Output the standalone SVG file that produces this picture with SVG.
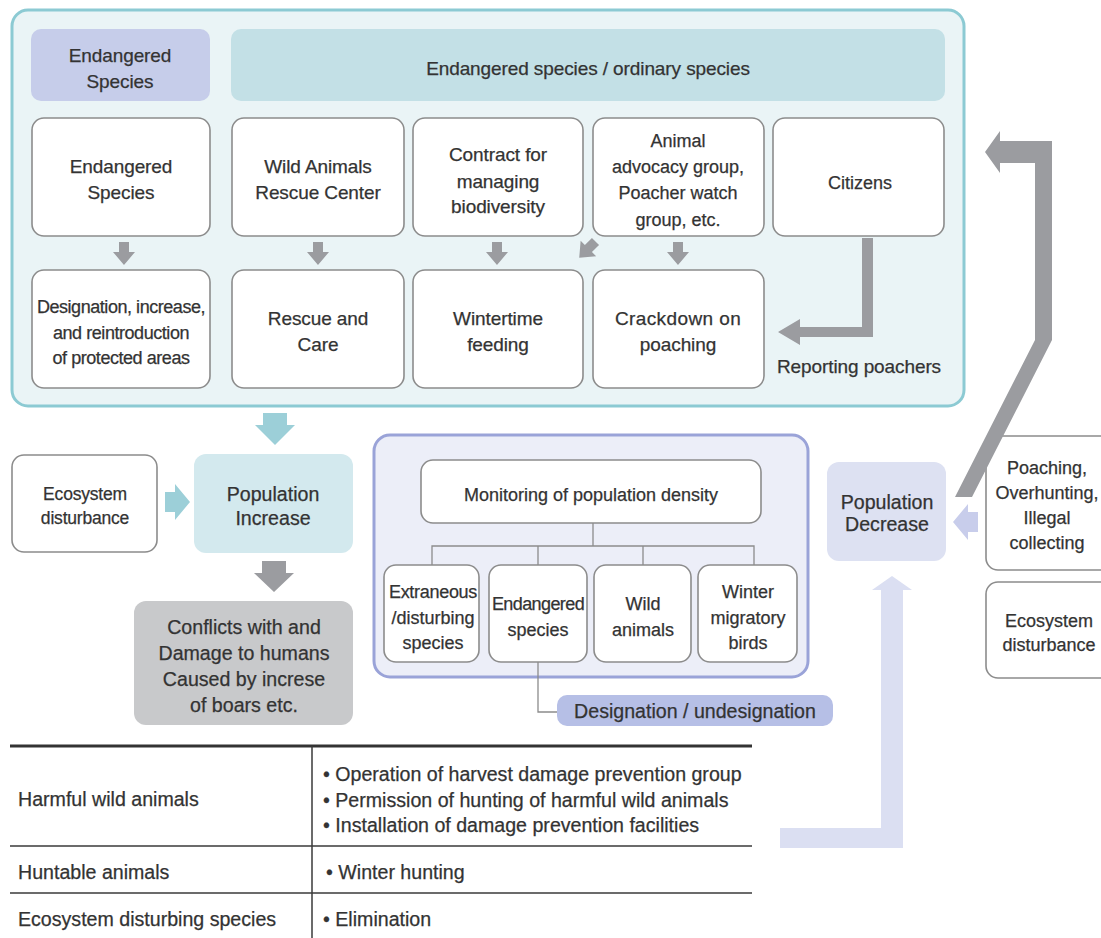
<svg xmlns="http://www.w3.org/2000/svg" width="1101" height="938" viewBox="0 0 1101 938">
<style>
text{font-family:"Liberation Sans",Arial,sans-serif;font-size:19px;fill:#333;stroke:#333;stroke-width:0.25;letter-spacing:-0.1px}
.c{text-anchor:middle}
.s18{font-size:18px;letter-spacing:0}
.s17{font-size:17.5px;letter-spacing:-0.2px}
.nar{font-size:18px;letter-spacing:-0.45px}
.big{font-size:19.6px;letter-spacing:0}
.box{fill:#fff;stroke:#8c8c8c;stroke-width:1.6}
.garr{fill:#9b9ca0}
.tline{stroke:#3a3a3a;stroke-width:1.5;fill:none}
.tree{stroke:#8c8c8c;stroke-width:1.3;fill:none}
</style>
<rect width="1101" height="938" fill="#fff"/>
<g id="protection">
<rect x="12" y="10" width="952" height="396" rx="16" fill="#eaf4f6" stroke="#8ccad3" stroke-width="3"/>
<rect x="31" y="29" width="179" height="72" rx="10" fill="#c6cdea"/>
<text class="c" x="120" y="62">Endangered</text><text class="c" x="120" y="88">Species</text>
<rect x="231" y="29" width="714" height="72" rx="10" fill="#c3e0e6"/>
<text class="c" x="588" y="75">Endangered species / ordinary species</text>
</g>
<g id="n-endangered"><rect class="box" x="32" y="118" width="178" height="118" rx="12"/><text class="c" x="121" y="173">Endangered</text><text class="c" x="121" y="199">Species</text></g>
<g id="n-rescuecenter"><rect class="box" x="232" y="118" width="172" height="118" rx="12"/><text class="c" x="318" y="173">Wild Animals</text><text class="c" x="318" y="199">Rescue Center</text></g>
<g id="n-contract"><rect class="box" x="413" y="118" width="170" height="118" rx="12"/><text class="c" x="498" y="161">Contract for</text><text class="c" x="498" y="188">managing</text><text class="c" x="498" y="213">biodiversity</text></g>
<g id="n-advocacy"><rect class="box" x="593" y="118" width="171" height="118" rx="12"/><text class="c s18" x="678" y="147">Animal</text><text class="c s18" x="678" y="173">advocacy group,</text><text class="c s18" x="678" y="199">Poacher watch</text><text class="c s18" x="678" y="226">group, etc.</text></g>
<g id="n-citizens"><rect class="box" x="773" y="118" width="171" height="118" rx="12"/><text class="c s18" x="860" y="189">Citizens</text></g>
<g id="n-designation"><rect class="box" x="32" y="270" width="178" height="118" rx="12"/><text class="c nar" x="121" y="313">Designation, increase,</text><text class="c nar" x="121" y="339">and reintroduction</text><text class="c nar" x="121" y="364">of protected areas</text></g>
<g id="n-rescuecare"><rect class="box" x="232" y="270" width="172" height="118" rx="12"/><text class="c" x="318" y="325">Rescue and</text><text class="c" x="318" y="351">Care</text></g>
<g id="n-feeding"><rect class="box" x="413" y="270" width="170" height="118" rx="12"/><text class="c" x="498" y="325">Wintertime</text><text class="c" x="498" y="351">feeding</text></g>
<g id="n-crackdown"><rect class="box" x="593" y="270" width="171" height="118" rx="12"/><text class="c" x="678" y="325" style="letter-spacing:0.4px">Crackdown on</text><text class="c" x="678" y="351">poaching</text></g>
<g id="n-reporting"><text class="c" x="859" y="373">Reporting poachers</text></g>

<g id="n-ecodist-left"><rect class="box" x="12" y="455" width="145" height="97" rx="12"/><text class="c s17" x="85" y="500">Ecosystem</text><text class="c s17" x="85" y="524">disturbance</text></g>
<g id="n-popinc"><rect x="194" y="454" width="159" height="99" rx="12" fill="#d3e9ee"/><text class="c big" x="273" y="501">Population</text><text class="c big" x="273" y="525">Increase</text></g>
<g id="n-conflicts"><rect x="134" y="601" width="219" height="124" rx="12" fill="#c8c9cb"/><text class="c big" x="244" y="634">Conflicts with and</text><text class="c big" x="244" y="660">Damage to humans</text><text class="c big" x="244" y="686">Caused by increse</text><text class="c big" x="244" y="712">of boars etc.</text></g>

<g id="monitoring">
<rect x="374" y="435" width="434" height="242" rx="16" fill="#eceef8" stroke="#9aa3d8" stroke-width="3"/>
</g>
<g id="n-monitor"><rect class="box" x="421" y="460" width="340" height="63" rx="12"/><text class="c s18" x="591" y="501">Monitoring of population density</text></g>
<g id="n-extraneous"><rect class="box" x="384" y="565" width="95" height="97" rx="12"/><text class="c s18" x="433" y="598" style="letter-spacing:-0.3px">Extraneous</text><text class="c s18" x="433" y="624">/disturbing</text><text class="c s18" x="433" y="649">species</text></g>
<g id="n-endsp"><rect class="box" x="489" y="565" width="98" height="97" rx="12"/><text class="c s18" x="538" y="610" style="letter-spacing:-0.6px">Endangered</text><text class="c s18" x="538" y="636">species</text></g>
<g id="n-wild"><rect class="box" x="594" y="565" width="97" height="97" rx="12"/><text class="c s18" x="643" y="610">Wild</text><text class="c s18" x="643" y="636">animals</text></g>
<g id="n-winter"><rect class="box" x="698" y="565" width="99" height="97" rx="12"/><text class="c s18" x="748" y="598">Winter</text><text class="c s18" x="748" y="624">migratory</text><text class="c s18" x="748" y="649">birds</text></g>
<g id="n-desig"><rect x="557" y="695" width="276" height="31" rx="10" fill="#b6bfe6"/><text class="c big" x="695" y="718">Designation / undesignation</text></g>

<g id="n-popdec"><rect x="827" y="462" width="119" height="99" rx="12" fill="#dde1f2"/><text class="c big" x="887" y="509">Population</text><text class="c big" x="887" y="531">Decrease</text></g>
<g id="n-poaching"><rect class="box" x="986" y="436" width="130" height="134" rx="12"/><text class="c s18" x="1047" y="474">Poaching,</text><text class="c s18" x="1047" y="499">Overhunting,</text><text class="c s18" x="1047" y="524">Illegal</text><text class="c s18" x="1047" y="549">collecting</text></g>
<g id="n-ecodist-right"><rect class="box" x="986" y="582" width="130" height="96" rx="12"/><text class="c s18" x="1049" y="627">Ecosystem</text><text class="c s18" x="1049" y="651">disturbance</text></g>

<g id="connectors">
<path class="garr" d="M119,242h10v10h6l-11,13l-11,-13h6z"/>
<path class="garr" d="M313,242h10v10h6l-11,13l-11,-13h6z"/>
<path class="garr" d="M492,242h10v10h6l-11,13l-11,-13h6z"/>
<path class="garr" d="M673,242h10v10h6l-11,13l-11,-13h6z"/>
<path class="garr" transform="translate(587,250) rotate(45)" d="M-5,-12h10v10h6l-11,13l-11,-13h6z"/>
<path class="garr" d="M862,238h11v99h-73v8l-22,-13l22,-13v8h62z"/>
<path class="garr" d="M955,497l80,-157v-177h-35v10l-15,-21l15,-21v10h52v199l-80,157z"/>
<path fill="#9ccfd8" d="M263,413h24v12h8l-20,20l-20,-20h8z"/>
<path fill="#9ccfd8" d="M165,492h10v-8l15,18l-15,18v-8h-10z"/>
<path class="garr" d="M262,561h24v12h8l-20,19l-20,-19h8z"/>
<path fill="#c8cdeb" d="M978,512h-10v-8l-15,18l15,18v-8h10z"/>
<path fill="#dbdff2" d="M780,828h101v-238h-9l20,-14l20,14h-9v258h-123z"/>
<path class="tree" d="M593,523v23M432,565v-19h322v19M538,546v19M643,546v19M538,662v50h19"/>
</g>

<g id="table">
<line x1="10" y1="746" x2="752" y2="746" stroke="#333" stroke-width="3"/>
<line class="tline" x1="312" y1="746" x2="312" y2="938"/>
<line class="tline" x1="10" y1="846" x2="752" y2="846"/>
<line class="tline" x1="10" y1="893" x2="752" y2="893"/>
<text class="big" x="18" y="806">Harmful wild animals</text>
<text class="big" x="323" y="781">• Operation of harvest damage prevention group</text>
<text class="big" x="323" y="807">• Permission of hunting of harmful wild animals</text>
<text class="big" x="323" y="832">• Installation of damage prevention facilities</text>
<text class="big" x="18" y="879">Huntable animals</text>
<text class="big" x="326" y="879">• Winter hunting</text>
<text class="big" x="18" y="926">Ecosystem disturbing species</text>
<text class="big" x="323" y="926">• Elimination</text>
</g>
</svg>
